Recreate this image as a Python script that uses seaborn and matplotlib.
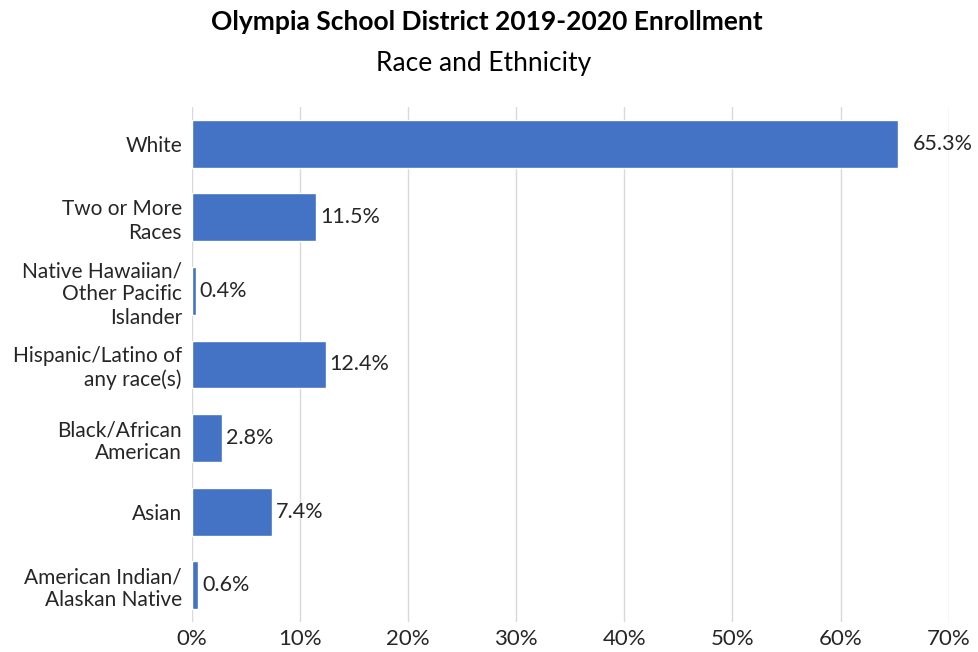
import matplotlib
matplotlib.use("Agg")
import matplotlib.pyplot as plt
import seaborn as sns
import pandas as pd

categories = ["White", "Two or More\nRaces", "Native Hawaiian/\nOther Pacific\nIslander",
              "Hispanic/Latino of\nany race(s)", "Black/African\nAmerican", "Asian",
              "American Indian/\nAlaskan Native"]
values = [65.3, 11.5, 0.4, 12.4, 2.8, 7.4, 0.6]
xticks = [0, 10, 20, 30, 40, 50, 60, 70]

sns.set_theme(style="white")
plt.rcParams['font.family'] = ['Lato', 'DejaVu Sans']

df = pd.DataFrame({"cat": categories, "val": values})

fig = plt.figure(figsize=(9.79, 6.52), dpi=100)
ax = fig.add_axes([0.1958, 0.046, 0.7732, 0.790])
sns.barplot(data=df, x="val", y="cat", color="#4472C4", saturation=1, width=0.65, ax=ax, zorder=3)

ax.set_xlim(0, 70)
ax.set_xticks(xticks)
ax.set_xticklabels([f"{t}%" for t in xticks], fontsize=16, color="#262626")
ax.tick_params(axis="y", labelsize=15, colors="#262626", length=0, pad=7)
ax.tick_params(axis="x", length=0, pad=5)
for lab in ax.get_yticklabels():
    lab.set_horizontalalignment("right")
    lab.set_multialignment("right")
ax.set_xlabel("")
ax.set_ylabel("")
ax.grid(axis="x", color="#d9d9d9", linewidth=1, zorder=0)
for s in ax.spines.values():
    s.set_visible(False)

for i, v in enumerate(values):
    off = 1.35 if i == 0 else 0.35
    ax.text(v + off, i, f"{v:.1f}%", va="center", ha="left", fontsize=15.5, color="#262626")

fig.text(0.497, 0.967, "Olympia School District 2019-2020 Enrollment", ha="center", va="center",
         fontsize=19, fontweight="bold", color="#000000")
fig.text(0.494, 0.903, "Race and Ethnicity", ha="center", va="center", fontsize=19, color="#000000")

fig.savefig("out.png", dpi=100)
